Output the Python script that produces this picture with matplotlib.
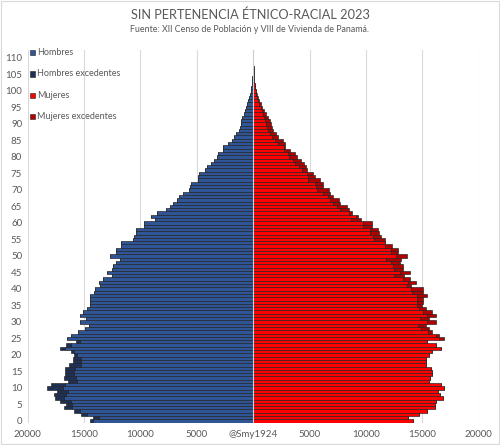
import numpy as np
import matplotlib.pyplot as plt
from matplotlib.patches import Rectangle

plt.rcParams['font.family'] = ['Lato', 'DejaVu Sans']

# Edades 0..110
edades = np.arange(0, 111)

# Poblacion total por edad (miles)
hombres_k = [
    14.5, 14.2, 15.3, 15.9, 16.8, 16.6, 17.1, 17.6, 17.7, 17.4,
    18.3, 17.9, 16.4, 16.8, 16.7, 16.7, 16.7, 16.3, 16.0, 16.0,
    15.9, 16.2, 17.1, 16.6, 15.7, 16.5, 16.2, 15.5, 14.9, 14.6,
    15.4, 14.8, 15.4, 15.1, 14.7, 14.5, 14.5, 14.5, 14.5, 14.1,
    14.0, 13.6, 13.7, 13.3, 12.5, 13.0, 12.5, 12.4, 12.2, 11.8,
    12.7, 12.2, 12.2, 11.7, 11.7, 10.7, 10.6, 10.4, 10.4, 9.7,
    9.7, 8.7, 9.1, 8.5, 7.7, 7.4, 7.1, 6.8, 6.6, 6.2,
    5.7, 5.6, 5.5, 4.9, 4.9, 4.8, 4.3, 4.1, 3.7, 3.5,
    3.2, 3.1, 2.7, 2.7, 2.2, 1.9, 1.7, 1.5, 1.3, 1.2,
    1.1, 1.05, 1.0, 0.85, 0.75, 0.65, 0.55, 0.45, 0.35, 0.28,
    0.22, 0.17, 0.13, 0.10, 0.07, 0.05, 0.04, 0.03, 0.02, 0.02,
    0.01,
]
mujeres_k = [
    14.2, 13.7, 14.7, 15.4, 16.1, 16.1, 16.2, 16.8, 16.6, 16.4,
    16.9, 16.7, 15.6, 15.7, 15.9, 15.9, 15.8, 15.3, 15.3, 15.3,
    15.6, 15.9, 16.7, 16.2, 15.4, 16.9, 16.5, 15.9, 15.6, 15.3,
    16.2, 15.6, 16.2, 15.9, 15.3, 15.0, 15.1, 15.1, 15.4, 15.1,
    15.1, 14.0, 14.4, 13.9, 13.4, 13.9, 13.3, 13.3, 13.0, 13.1,
    13.6, 12.8, 12.8, 12.3, 11.7, 11.7, 11.3, 11.2, 11.1, 10.5,
    10.5, 9.6, 9.3, 8.8, 8.5, 8.3, 7.7, 7.6, 7.1, 6.8,
    6.7, 6.2, 6.2, 5.9, 5.5, 5.3, 4.8, 4.7, 4.5, 4.2,
    3.9, 3.7, 3.3, 2.8, 2.8, 2.6, 2.2, 2.0, 1.8, 1.7,
    1.55, 1.45, 1.35, 1.1, 0.95, 0.8, 0.65, 0.5, 0.4, 0.3,
    0.24, 0.18, 0.14, 0.10, 0.07, 0.05, 0.04, 0.03, 0.02, 0.02,
    0.01,
]

hombres = np.array(hombres_k) * 1000
mujeres = np.array(mujeres_k) * 1000
comun = np.minimum(hombres, mujeres)
exc_h = hombres - comun
exc_m = mujeres - comun

c_h = '#2f5597'
c_hx = '#1f3057'
c_m = '#ff0000'
c_mx = '#b00000'
gris = '#595959'

fig = plt.figure(figsize=(5, 4.45), dpi=100)
ax = fig.add_axes([0.0554, 0.0488, 0.902, 0.8388])

kw = dict(height=1.0, edgecolor='#202020', linewidth=0.45)
ax.barh(edades, -comun, color=c_h, **kw)
ax.barh(edades, -exc_h, left=-comun, color=c_hx, **kw)
ax.barh(edades, comun, color=c_m, **kw)
ax.barh(edades, exc_m, left=comun, color=c_mx, **kw)
ax.axvline(0, color='#c8d0dc', lw=0.8, zorder=3)

ax.set_xlim(-20000, 20000)
ax.set_ylim(-0.7, 112.4)
xt = np.arange(-20000, 20001, 5000)
ax.set_xticks(xt)
ax.set_xticklabels([str(abs(v)) if v != 0 else '@Smy1924' for v in xt],
                   fontsize=7, color=gris)
ax.set_yticks(np.arange(0, 111, 5))
ax.set_yticklabels([str(v) for v in range(0, 111, 5)], fontsize=7, color=gris)
ax.tick_params(length=0, pad=4)
ax.tick_params(axis='x', pad=5)
ax.grid(axis='x', color='#d9d9d9', lw=0.8)
ax.set_axisbelow(True)
for s in ax.spines.values():
    s.set_visible(False)

# Leyenda
etiquetas = ['Hombres', 'Hombres excedentes', 'Mujeres', 'Mujeres excedentes']
colores = [c_h, c_hx, c_m, c_mx]
ys = [52.7, 74, 95.3, 116.5]
for lab, col, y in zip(etiquetas, colores, ys):
    fig.patches.append(Rectangle((30 / 500, 1 - (y + 2.5) / 445), 5 / 500, 5 / 445,
                                 transform=fig.transFigure, facecolor=col,
                                 edgecolor='#202020', lw=0.4))
    fig.text(37 / 500, 1 - y / 445, lab, fontsize=6.5, color=gris, va='center')

fig.text(0.5, 1 - 15 / 445, 'SIN PERTENENCIA ÉTNICO-RACIAL 2023', ha='center',
         va='center', fontsize=9.2, color=gris)
fig.text(0.5, 1 - 29.5 / 445, 'Fuente: XII Censo de Población y VIII de Vivienda de Panamá.',
         ha='center', va='center', fontsize=6.4, color=gris)

fig.patches.append(Rectangle((0.002, 0.002), 0.996, 0.996, transform=fig.transFigure,
                             fill=False, edgecolor='#d9d9d9', lw=0.8))

fig.savefig('out.png', dpi=100)
